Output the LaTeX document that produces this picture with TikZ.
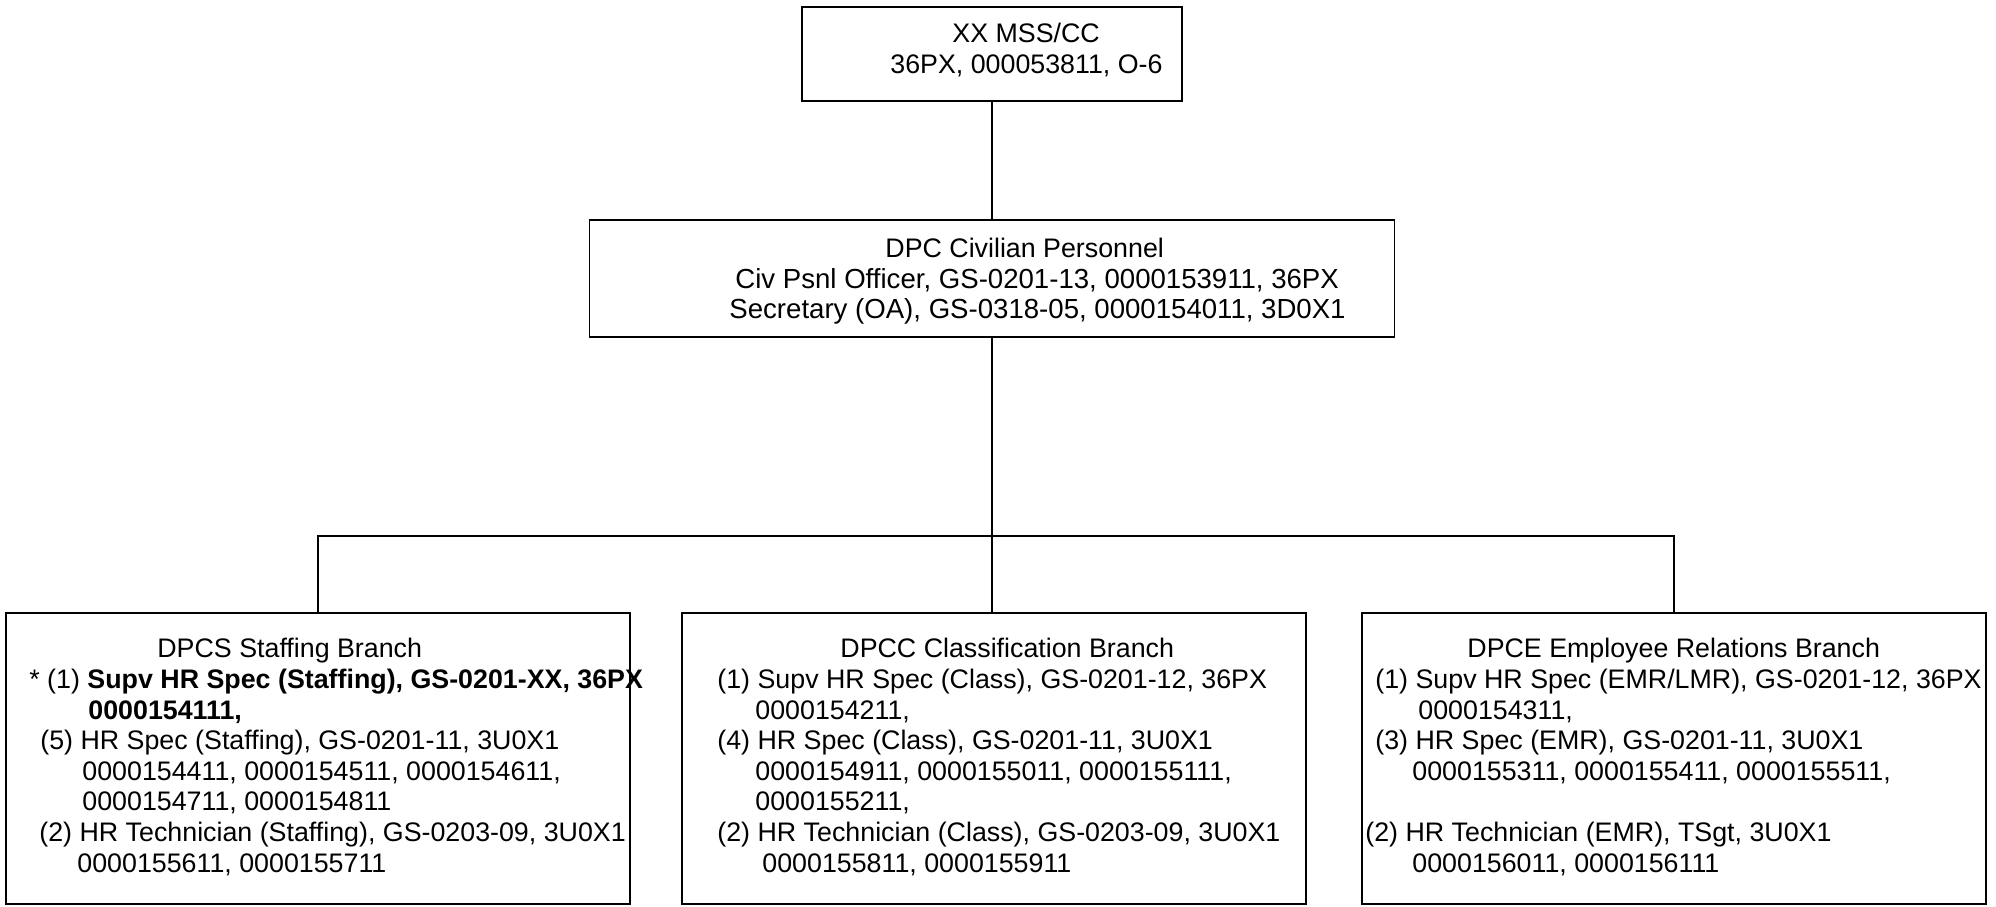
\documentclass[tikz,border=0pt]{standalone}
\usepackage{fontspec}
\setmainfont{Liberation Sans}

\tikzset{
  unit/.style={draw, line width=0.65pt, inner sep=0pt},
  txt/.style={align=left, inner sep=0pt, anchor=north west,
    font=\fontsize{13.4pt}{15.3pt}\selectfont, execute at begin node=\strut},
  link/.style={line width=0.6pt}
}
\newcommand{\widerline}{\fontsize{13.8pt}{15.3pt}\selectfont}

\begin{document}
\begin{tikzpicture}[x=0.5pt,y=-0.5pt]
        \useasboundingbox (0,0) rectangle (1996,906);

        % draw the boxes
        \node[unit, minimum width=190pt, minimum height=47pt] (cc) at (992,54) {};
        \node[unit, minimum width=402.5pt, minimum height=58.5pt] (dpc) at (992,278.5) {};
        \node[unit, minimum width=312pt, minimum height=145.5pt] (dpcs) at (318,758.5) {};
        \node[unit, minimum width=312pt, minimum height=145.5pt] (dpcc) at (994,758.5) {};
        \node[unit, minimum width=312pt, minimum height=145.5pt] (dpce) at (1674,758.5) {};

        % draw the texts of the boxes
        \node[txt] (cc-txt) at (890,22.6) {\hspace*{31pt}XX MSS/CC\\
            36PX, 000053811, O-6};
        \node[txt] (dpc-txt) at (729,237.6) {\hspace*{78pt}DPC Civilian Personnel\\
            \widerline\hspace*{3pt}Civ Psnl Officer, GS-0201-13, 0000153911, 36PX\\
            \widerline Secretary (OA), GS-0318-05, 0000154011, 3D0X1};
        \node[txt] (dpcs-txt) at (29,638.1) {\hspace*{64pt}DPCS Staffing Branch\\
            * (1) \textbf{Supv HR Spec (Staffing), GS-0201-XX, 36PX}\\
            \hspace*{29.5pt}\textbf{0000154111,}\\
            \hspace*{5.5pt}(5) HR Spec (Staffing), GS-0201-11, 3U0X1\\
            \hspace*{26.5pt}0000154411, 0000154511, 0000154611,\\
            \hspace*{26.5pt}0000154711, 0000154811\\
            \hspace*{5pt}(2) HR Technician (Staffing), GS-0203-09, 3U0X1\\
            \hspace*{24pt}0000155611, 0000155711};
        \node[txt] (dpcc-txt) at (717,638.1) {\hspace*{61.5pt}DPCC Classification Branch\\
            (1) Supv HR Spec (Class), GS-0201-12, 36PX\\
            \hspace*{19pt}0000154211,\\
            (4) HR Spec (Class), GS-0201-11, 3U0X1\\
            \hspace*{19pt}0000154911, 0000155011, 0000155111,\\
            \hspace*{19pt}0000155211,\\
            (2) HR Technician (Class), GS-0203-09, 3U0X1\\
            \hspace*{22.5pt}0000155811, 0000155911};
        \node[txt] (dpce-txt) at (1365,638.1) {\hspace*{51pt}DPCE Employee Relations Branch\\
            \hspace*{5pt}(1) Supv HR Spec (EMR/LMR), GS-0201-12, 36PX\\
            \hspace*{26.5pt}0000154311,\\
            \hspace*{5pt}(3) HR Spec (EMR), GS-0201-11, 3U0X1\\
            \hspace*{23.5pt}0000155311, 0000155411, 0000155511,\\[15.3pt]
            (2) HR Technician (EMR), TSgt, 3U0X1\\
            \hspace*{23.5pt}0000156011, 0000156111};

        % draw the connectors
        \coordinate (bar) at (0,536);
        \draw[link] (cc.south) -- (dpc.north);
        \draw[link] (dpc.south) -- (dpc.south |- dpcc.north);
        \draw[link] (dpcs.north) -- (dpcs.north |- bar) -- (dpce.north |- bar) -- (dpce.north);
\end{tikzpicture}
\end{document}
